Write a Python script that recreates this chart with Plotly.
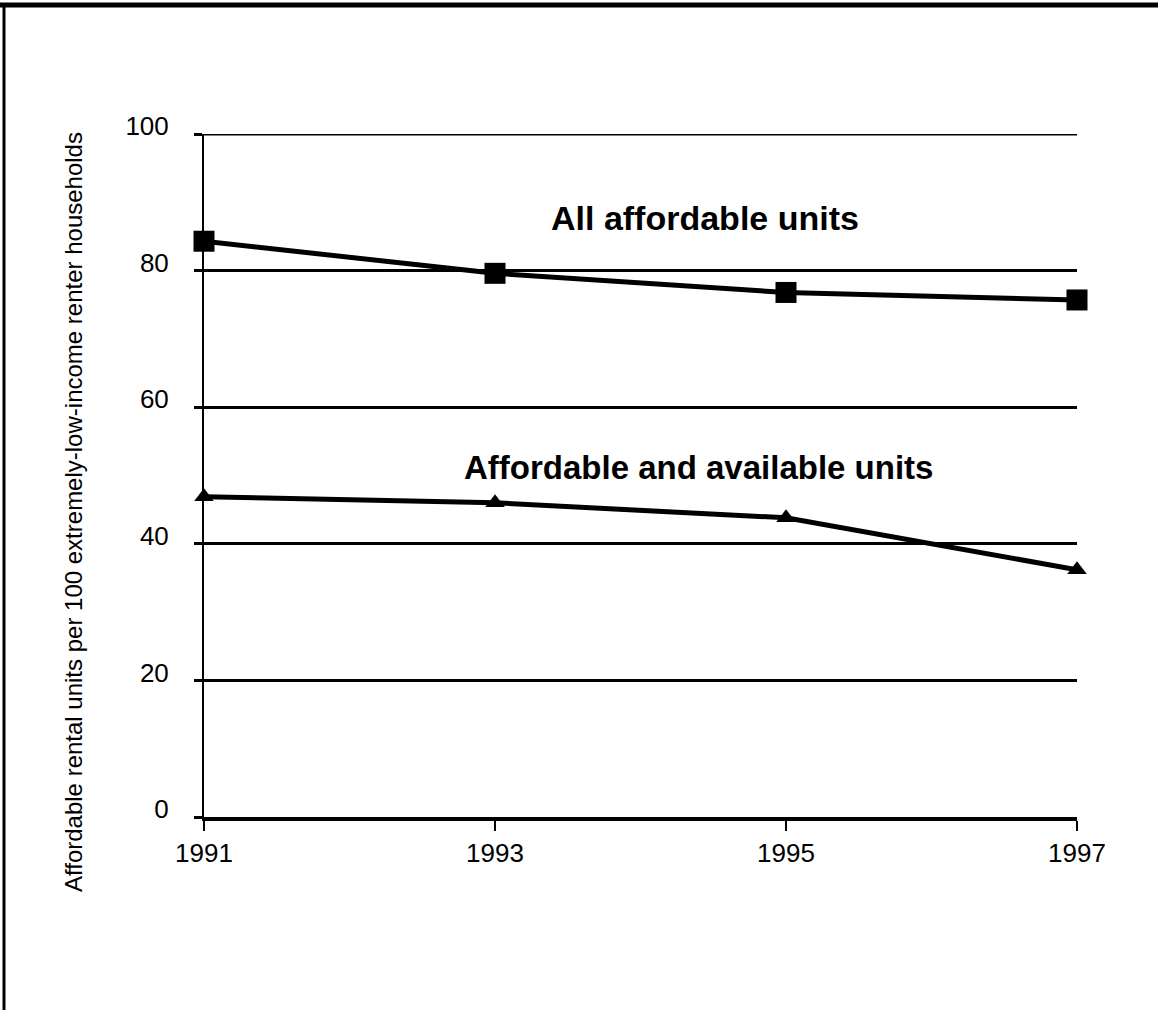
import plotly.graph_objects as go

years = [1991, 1993, 1995, 1997]
all_affordable = [84.3, 79.6, 76.8, 75.7]
affordable_available = [46.9, 46.0, 43.8, 36.2]
y_ticks = [0, 20, 40, 60, 80, 100]
x_ticks = [1991, 1993, 1995, 1997]
y_title = "Affordable rental units per 100 extremely-low-income renter households"
label_all = "All affordable units"
label_avail = "Affordable and available units"

FONT = "Liberation Sans, Arial, Helvetica, sans-serif"
W, H = 1158, 1010
L, R, T, B = 204, 81, 134, 193
pw, ph = W - L - R, H - T - B

def px(x):
    return (x - L) / pw

def py(y):
    return (H - B - y) / ph

fig = go.Figure()
fig.add_trace(go.Scatter(
    x=years, y=all_affordable, mode="lines+markers",
    line=dict(color="black", width=5),
    marker=dict(symbol="square", size=21, color="black"),
    showlegend=False, cliponaxis=False,
))
fig.add_trace(go.Scatter(
    x=years, y=affordable_available, mode="lines+markers",
    line=dict(color="black", width=5),
    marker=dict(symbol="triangle-up", size=17, color="black"),
    showlegend=False, cliponaxis=False,
))

fig.add_annotation(x=1994.44, y=87.7, text=f"<b>{label_all}</b>", showarrow=False,
                   font=dict(family=FONT, size=34, color="black"))
fig.add_annotation(x=1994.40, y=51.1, text=f"<b>{label_avail}</b>", showarrow=False,
                   font=dict(family=FONT, size=33, color="black"))
fig.add_annotation(x=px(73), y=py(512), xref="paper", yref="paper", text=y_title,
                   textangle=-90, showarrow=False, xanchor="center", yanchor="middle",
                   font=dict(family=FONT, size=24, color="black"))

# top gridline (at the range edge)
fig.add_shape(type="line", xref="paper", yref="y", x0=0, x1=1,
              y0=max(y_ticks), y1=max(y_ticks), line=dict(color="black", width=3))
# frame lines
fig.add_shape(type="line", xref="paper", yref="paper", x0=px(0), x1=px(W), y0=py(5), y1=py(5),
              line=dict(color="black", width=5))
fig.add_shape(type="line", xref="paper", yref="paper", x0=px(4), x1=px(4), y0=py(3), y1=py(H),
              line=dict(color="black", width=3))

fig.update_xaxes(
    range=[1991, 1997], tickvals=x_ticks, ticktext=[str(v) for v in x_ticks],
    showgrid=False, showline=True, linecolor="black", linewidth=4,
    ticks="outside", ticklen=10, tickwidth=2, tickcolor="black",
    tickfont=dict(family=FONT, size=26, color="black"), zeroline=False,
)
fig.update_yaxes(
    range=[0, 100], tickvals=y_ticks,
    showgrid=True, gridcolor="black", gridwidth=3,
    showline=True, linecolor="black", linewidth=2,
    ticks="outside", ticklen=8, tickwidth=3, tickcolor="black",
    ticklabelstandoff=20, ticklabelshift=-8,
    tickfont=dict(family=FONT, size=26, color="black"), zeroline=False,
)
fig.update_layout(
    width=W, height=H, margin=dict(l=L, r=R, t=T, b=B, autoexpand=False),
    paper_bgcolor="white", plot_bgcolor="white",
    font=dict(family=FONT, color="black"),
)
fig.write_html("out.html", config={"displayModeBar": False},
               post_script="document.body.style.margin='0';document.body.style.overflow='hidden';")
